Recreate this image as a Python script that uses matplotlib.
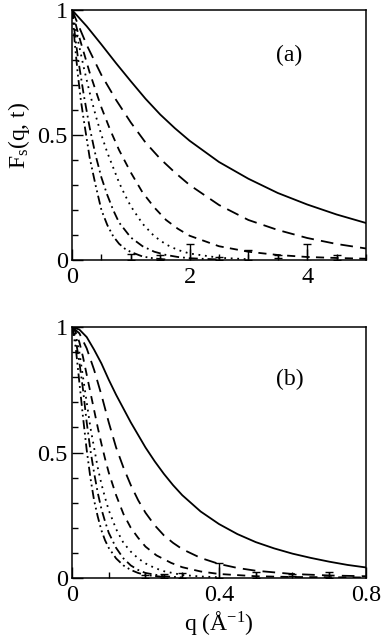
import matplotlib
matplotlib.use('Agg')
import matplotlib.pyplot as plt
from matplotlib.ticker import MultipleLocator

plt.rcParams['font.family'] = ['Liberation Serif', 'DejaVu Serif']
plt.rcParams['mathtext.fontset'] = 'custom'
plt.rcParams['mathtext.rm'] = 'Liberation Serif'
plt.rcParams['mathtext.it'] = 'Liberation Serif:italic'

# ---- panel (a): q in 0..5 ----
qa_solid = [0, 0.25, 0.5, 0.75, 1.0, 1.25, 1.5, 1.75, 2.0, 2.5, 3.0, 3.5, 4.0, 4.5, 5.0]
fa_solid = [1, 0.935, 0.862, 0.787, 0.715, 0.645, 0.582, 0.527, 0.477, 0.392, 0.325, 0.268, 0.222, 0.182, 0.148]
qa_long = [0, 0.25, 0.5, 0.75, 1.0, 1.25, 1.5, 1.75, 2.0, 2.5, 3.0, 3.5, 4.0, 4.5, 5.0]
fa_long = [1, 0.86, 0.74, 0.64, 0.55, 0.47, 0.405, 0.35, 0.30, 0.22, 0.16, 0.12, 0.088, 0.064, 0.046]
qa_dash = [0, 0.1, 0.2, 0.3, 0.4, 0.5, 0.65, 0.8, 1.0, 1.2, 1.4, 1.6, 1.8, 2.0, 2.5, 3.0, 3.5, 4.0, 4.5, 5.0]
fa_dash = [1, 0.91, 0.83, 0.75, 0.68, 0.61, 0.52, 0.44, 0.35, 0.27, 0.21, 0.16, 0.125, 0.097, 0.055, 0.033, 0.02, 0.012, 0.008, 0.005]
qa_dot = [0, 0.05, 0.1, 0.2, 0.3, 0.4, 0.5, 0.6, 0.7, 0.8, 0.9, 1.0, 1.2, 1.4, 1.6, 1.8, 2.0, 2.5, 3.0]
fa_dot = [1, 0.94, 0.88, 0.77, 0.67, 0.58, 0.5, 0.43, 0.37, 0.31, 0.26, 0.215, 0.145, 0.095, 0.062, 0.04, 0.026, 0.009, 0.003]
qa_dd = [0, 0.05, 0.1, 0.2, 0.3, 0.4, 0.5, 0.6, 0.7, 0.8, 0.9, 1.0, 1.2, 1.4, 1.6, 1.8, 2.0, 2.5]
fa_dd = [1, 0.9, 0.81, 0.66, 0.53, 0.42, 0.33, 0.26, 0.2, 0.15, 0.12, 0.09, 0.055, 0.033, 0.02, 0.012, 0.007, 0.002]
qa_ddd = [0, 0.05, 0.1, 0.15, 0.2, 0.3, 0.4, 0.5, 0.6, 0.7, 0.8, 0.9, 1.0, 1.2, 1.4, 1.6]
fa_ddd = [1, 0.86, 0.74, 0.64, 0.56, 0.41, 0.3, 0.2, 0.14, 0.095, 0.065, 0.045, 0.032, 0.014, 0.006, 0.002]
qa_err = [1.0, 1.5, 2.0, 2.5, 3.0, 3.5, 4.0, 4.5]
fa_err = [0.012, 0.01, 0.03, 0.006, 0.02, 0.012, 0.03, 0.01]
ea_err = [0.012, 0.01, 0.033, 0.006, 0.02, 0.006, 0.033, 0.01]

# ---- panel (b): q in 0..0.8 ----
qb_solid = [0, 0.02, 0.04, 0.06, 0.08, 0.1, 0.12, 0.14, 0.16, 0.18, 0.2, 0.225, 0.25, 0.275, 0.3,
            0.35, 0.4, 0.45, 0.5, 0.55, 0.6, 0.65, 0.7, 0.75, 0.8]
fb_solid = [1, 0.99, 0.96, 0.91, 0.855, 0.79, 0.73, 0.675, 0.62, 0.57, 0.52, 0.465, 0.415, 0.37, 0.33,
            0.265, 0.215, 0.175, 0.143, 0.118, 0.097, 0.08, 0.065, 0.052, 0.042]
qb_long = [0, 0.02, 0.04, 0.06, 0.08, 0.1, 0.12, 0.14, 0.16, 0.18, 0.2, 0.225, 0.25, 0.275, 0.3,
           0.35, 0.4, 0.45, 0.5, 0.6, 0.7, 0.8]
fb_long = [1, 0.975, 0.915, 0.83, 0.73, 0.62, 0.52, 0.44, 0.37, 0.31, 0.26, 0.21, 0.17, 0.14, 0.115,
           0.08, 0.056, 0.04, 0.029, 0.016, 0.01, 0.007]
qb_dash = [0, 0.01, 0.02, 0.03, 0.04, 0.05, 0.06, 0.07, 0.08, 0.09, 0.1, 0.12, 0.14, 0.16, 0.18,
           0.2, 0.23, 0.27, 0.3, 0.35, 0.4, 0.5, 0.6, 0.8]
fb_dash = [1, 0.98, 0.94, 0.88, 0.81, 0.74, 0.67, 0.6, 0.535, 0.475, 0.42, 0.33, 0.255, 0.2, 0.16,
           0.125, 0.09, 0.06, 0.043, 0.026, 0.016, 0.007, 0.004, 0.002]
qb_dot = [0, 0.01, 0.02, 0.03, 0.04, 0.05, 0.06, 0.07, 0.08, 0.09, 0.1, 0.12, 0.14, 0.16, 0.18,
          0.2, 0.225, 0.25, 0.3, 0.35, 0.4]
fb_dot = [1, 0.97, 0.9, 0.8, 0.7, 0.6, 0.52, 0.44, 0.375, 0.32, 0.27, 0.195, 0.14, 0.105, 0.078,
          0.058, 0.04, 0.027, 0.012, 0.006, 0.003]
qb_dd = [0, 0.01, 0.02, 0.03, 0.04, 0.05, 0.06, 0.07, 0.08, 0.09, 0.1, 0.12, 0.14, 0.16, 0.18,
         0.2, 0.25, 0.3]
fb_dd = [1, 0.95, 0.86, 0.75, 0.62, 0.51, 0.42, 0.34, 0.275, 0.225, 0.18, 0.12, 0.078, 0.05, 0.032,
         0.02, 0.007, 0.002]
qb_ddd = [0, 0.01, 0.02, 0.03, 0.04, 0.05, 0.06, 0.07, 0.08, 0.09, 0.1, 0.12, 0.14, 0.16, 0.18,
          0.2, 0.25]
fb_ddd = [1, 0.92, 0.78, 0.64, 0.51, 0.4, 0.31, 0.245, 0.19, 0.15, 0.12, 0.078, 0.05, 0.032, 0.02,
          0.012, 0.004]
qb_err = [0.2, 0.25, 0.3, 0.4, 0.5, 0.6, 0.7]
fb_err = [0.006, 0.008, 0.01, 0.03, 0.012, 0.01, 0.012]
eb_err = [0.006, 0.008, 0.01, 0.03, 0.012, 0.004, 0.012]

styles = [
    dict(ls='-'),
    dict(ls=(0, (7, 4))),
    dict(ls=(0, (4.5, 3.5))),
    dict(ls=(0, (1, 2.6))),
    dict(ls=(0, (5, 2.2, 1, 2.2))),
    dict(ls=(0, (5, 2, 1, 2, 1, 2))),
]

fig = plt.figure(figsize=(3.82, 6.44), dpi=100)
ax1 = fig.add_axes([0.1885, 0.5963, 0.7695, 0.3882])
ax2 = fig.add_axes([0.1885, 0.1025, 0.7695, 0.3897])

panel_a = [(qa_solid, fa_solid), (qa_long, fa_long), (qa_dash, fa_dash),
           (qa_dot, fa_dot), (qa_dd, fa_dd), (qa_ddd, fa_ddd)]
panel_b = [(qb_solid, fb_solid), (qb_long, fb_long), (qb_dash, fb_dash),
           (qb_dot, fb_dot), (qb_dd, fb_dd), (qb_ddd, fb_ddd)]

for ax, curves, err, xmax, major, minor, tag, tagpos in [
        (ax1, panel_a, (qa_err, fa_err, ea_err), 5, 2, 0.5, '(a)', (3.7, 0.82)),
        (ax2, panel_b, (qb_err, fb_err, eb_err), 0.8, 0.4, 0.1, '(b)', (0.593, 0.79))]:
    for (q, f), st in zip(curves, styles):
        ax.plot(q, f, color='black', lw=1.3, **st)
    ax.errorbar(err[0], err[1], yerr=err[2], fmt='none', ecolor='black',
                elinewidth=1.0, capsize=3)
    ax.set_xlim(0, xmax)
    ax.set_ylim(0, 1)
    ax.xaxis.set_major_locator(MultipleLocator(major))
    ax.xaxis.set_minor_locator(MultipleLocator(minor))
    ax.yaxis.set_major_locator(MultipleLocator(0.5))
    ax.yaxis.set_minor_locator(MultipleLocator(0.1))
    ax.tick_params(which='both', direction='in', top=False, right=False,
                   labelsize=17.5, width=1.0)
    ax.tick_params(axis='y', pad=3)
    ax.tick_params(axis='x', pad=5)
    ax.tick_params(which='major', length=8)
    ax.tick_params(which='minor', length=4.5)
    ax.yaxis.set_major_formatter(plt.FuncFormatter(lambda v, p: '%g' % v))
    ax.xaxis.set_major_formatter(plt.FuncFormatter(lambda v, p: '%g' % v))
    for s in ax.spines.values():
        s.set_linewidth(1.1)
    ax.text(tagpos[0], tagpos[1], tag, fontsize=17, ha='center', va='center')

ax1.set_ylabel(r'F$_\mathrm{s}$(q, t)', fontsize=17, labelpad=4)
ax2.set_xlabel(r'q (Å$^{\mathrm{-1}}$)', fontsize=17, labelpad=2)

fig.savefig('out.png', dpi=100)
